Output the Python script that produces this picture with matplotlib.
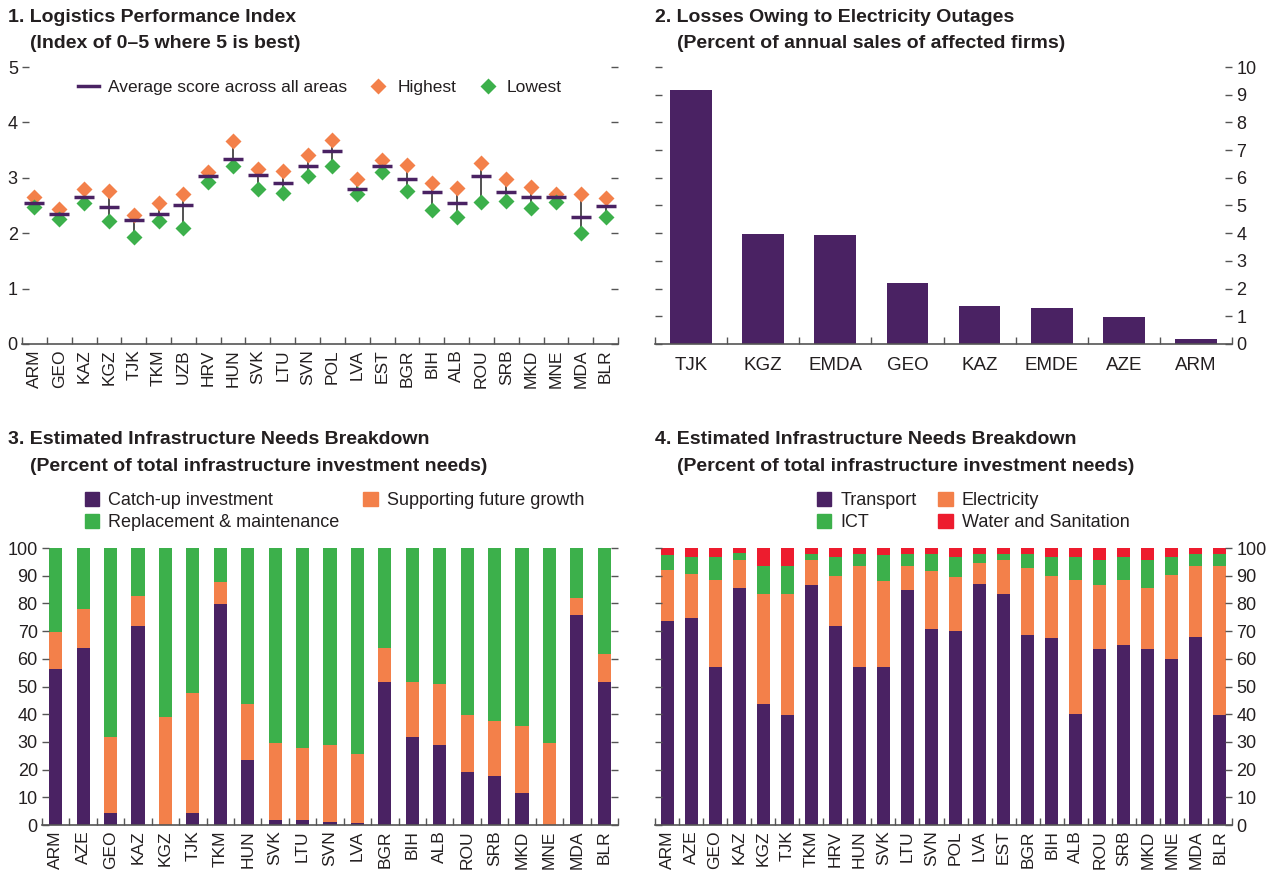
import matplotlib
matplotlib.use('Agg')
import matplotlib.pyplot as plt
import numpy as np
from matplotlib.lines import Line2D
from matplotlib.patches import Patch

plt.rcParams['font.family'] = ['Liberation Sans Narrow', 'Liberation Sans', 'DejaVu Sans']

PURPLE = '#4A2263'
ORANGE = '#F3804A'
GREEN = '#3CB04B'
RED = '#ED1C2E'
TEXT = '#231F20'
SPINE = '#555555'

# ---- Panel 1: Logistics Performance Index ----
lpi_countries = ['ARM', 'GEO', 'KAZ', 'KGZ', 'TJK', 'TKM', 'UZB', 'HRV', 'HUN', 'SVK', 'LTU', 'SVN',
                 'POL', 'LVA', 'EST', 'BGR', 'BIH', 'ALB', 'ROU', 'SRB', 'MKD', 'MNE', 'MDA', 'BLR']
lpi_avg = [2.55, 2.35, 2.66, 2.47, 2.24, 2.35, 2.51, 3.03, 3.34, 3.05, 2.91, 3.21,
           3.48, 2.80, 3.21, 2.97, 2.74, 2.55, 3.03, 2.74, 2.66, 2.66, 2.30, 2.49]
lpi_high = [2.66, 2.44, 2.79, 2.76, 2.32, 2.55, 2.71, 3.10, 3.67, 3.15, 3.13, 3.41,
            3.69, 2.98, 3.32, 3.23, 2.90, 2.82, 3.27, 2.97, 2.84, 2.71, 2.70, 2.64]
lpi_low = [2.48, 2.26, 2.55, 2.22, 1.93, 2.22, 2.09, 2.92, 3.21, 2.80, 2.73, 3.04,
           3.21, 2.70, 3.10, 2.76, 2.42, 2.30, 2.56, 2.59, 2.45, 2.57, 2.01, 2.30]

# ---- Panel 2: Losses owing to electricity outages ----
outage_countries = ['TJK', 'KGZ', 'EMDA', 'GEO', 'KAZ', 'EMDE', 'AZE', 'ARM']
outage_losses = [9.16, 3.97, 3.94, 2.21, 1.38, 1.31, 0.98, 0.19]

# ---- Panel 3: needs by type ----
type_countries = ['ARM', 'AZE', 'GEO', 'KAZ', 'KGZ', 'TJK', 'TKM', 'HUN', 'SVK', 'LTU', 'SVN',
                  'LVA', 'BGR', 'BIH', 'ALB', 'ROU', 'SRB', 'MKD', 'MNE', 'MDA', 'BLR']
catch_up = [56.3, 63.9, 4.3, 71.8, 0.0, 4.3, 79.8, 23.5, 1.8, 1.8, 1.1,
            0.7, 51.6, 31.8, 28.9, 19.1, 17.7, 11.6, 0.0, 75.8, 51.6]
future_growth = [13.5, 14.1, 27.5, 10.9, 39.0, 43.4, 7.9, 20.3, 27.8, 26.0, 27.8,
                 24.9, 12.3, 19.8, 22.0, 20.6, 19.8, 24.1, 29.6, 6.1, 10.1]
replacement = [30.2, 22.0, 68.2, 17.3, 61.0, 52.3, 12.3, 56.2, 70.4, 72.2, 71.1,
               74.4, 36.1, 48.4, 49.1, 60.3, 62.5, 64.3, 70.4, 18.1, 38.3]

# ---- Panel 4: needs by sector ----
sector_countries = ['ARM', 'AZE', 'GEO', 'KAZ', 'KGZ', 'TJK', 'TKM', 'HRV', 'HUN', 'SVK', 'LTU', 'SVN',
                    'POL', 'LVA', 'EST', 'BGR', 'BIH', 'ALB', 'ROU', 'SRB', 'MKD', 'MNE', 'MDA', 'BLR']
transport = [73.6, 74.7, 57.0, 85.6, 43.7, 39.7, 86.6, 71.8, 57.0, 57.0, 84.8, 70.8,
             70.0, 87.0, 83.4, 68.6, 67.5, 40.1, 63.5, 65.0, 63.5, 59.9, 67.9, 39.7]
electricity = [18.5, 15.9, 31.4, 10.1, 39.7, 43.7, 9.1, 18.1, 36.5, 31.1, 8.7, 20.9,
               19.5, 7.6, 12.3, 24.2, 22.4, 48.3, 23.1, 23.4, 22.1, 30.4, 25.6, 53.8]
ict = [5.4, 6.2, 8.4, 2.5, 10.1, 10.1, 2.1, 6.9, 4.3, 9.4, 4.3, 6.1,
       7.3, 3.2, 2.1, 5.0, 6.9, 8.4, 9.1, 8.4, 10.1, 6.5, 4.3, 4.3]
water = [2.5, 3.2, 3.2, 1.8, 6.5, 6.5, 2.2, 3.2, 2.2, 2.5, 2.2, 2.2,
         3.2, 2.2, 2.2, 2.2, 3.2, 3.2, 4.3, 3.2, 4.3, 3.2, 2.2, 2.2]

W, H = 1275, 871
fig = plt.figure(figsize=(W / 100, H / 100), dpi=100)


def box(x0, x1, ytop, ybot):
    return [x0 / W, 1 - ybot / H, (x1 - x0) / W, (ybot - ytop) / H]


def style_axes(ax, n, labels, rotate=True, fs=12.5):
    for s in ['top', 'left', 'right']:
        ax.spines[s].set_visible(False)
    ax.spines['bottom'].set_color(SPINE)
    ax.spines['bottom'].set_linewidth(1.2)
    ax.set_xlim(-0.5, n - 0.5)
    ax.set_xticks(np.arange(n))
    ax.set_xticklabels(labels, rotation=90 if rotate else 0, fontsize=fs, color=TEXT)
    ax.set_xticks(np.arange(n + 1) - 0.5, minor=True)
    ax.tick_params(axis='x', which='major', length=0, pad=4)
    ax.tick_params(axis='x', which='minor', direction='in', length=5, color=SPINE, width=1)
    ax.tick_params(axis='y', direction='in', length=5, color=SPINE, width=1,
                   labelsize=13, labelcolor=TEXT, pad=3, left=True, right=True)


def title(x, y, line1, line2):
    fig.text(x / W, 1 - y / H, line1, fontsize=14, fontweight='bold', color=TEXT, va='center')
    fig.text((x + 22) / W, 1 - (y + 26) / H, line2, fontsize=14, fontweight='bold', color=TEXT, va='center')


# Panel 1
ax1 = fig.add_axes(box(22, 618, 67, 344))
x1 = np.arange(len(lpi_countries))
ax1.vlines(x1, lpi_low, lpi_high, color='#333333', lw=1.2, zorder=2)
ax1.plot(x1, lpi_high, 'D', color=ORANGE, ms=8, mec='none', zorder=3)
ax1.plot(x1, lpi_low, 'D', color=GREEN, ms=8, mec='none', zorder=3)
ax1.plot(x1, lpi_avg, '_', color=PURPLE, ms=15, mew=2.5, zorder=4)
ax1.set_ylim(0, 5)
ax1.set_yticks(range(6))
style_axes(ax1, len(lpi_countries), lpi_countries)
ax1.tick_params(axis='y', labelleft=True, labelright=False)
handles1 = [Line2D([], [], color=PURPLE, lw=2.5),
            Line2D([], [], marker='D', ls='none', color=ORANGE, ms=8, mec='none'),
            Line2D([], [], marker='D', ls='none', color=GREEN, ms=8, mec='none')]
ax1.legend(handles1, ['Average score across all areas', 'Highest', 'Lowest'], ncol=3,
           loc='upper center', bbox_to_anchor=(0.5, 1.01), frameon=False, fontsize=12.5,
           handlelength=1.2, handletextpad=0.5, columnspacing=1.2, labelcolor=TEXT)
title(8, 18, '1. Logistics Performance Index', '(Index of 0–5 where 5 is best)')

# Panel 2
ax2 = fig.add_axes(box(655, 1232, 67, 344))
x2 = np.arange(len(outage_countries))
ax2.bar(x2, outage_losses, width=0.58, color=PURPLE)
ax2.set_ylim(0, 10)
ax2.set_yticks(range(11))
style_axes(ax2, len(outage_countries), outage_countries, rotate=False, fs=13.5)
ax2.tick_params(axis='x', which='major', pad=9)
ax2.tick_params(axis='y', labelleft=False, labelright=True)
title(655, 18, '2. Losses Owing to Electricity Outages', '(Percent of annual sales of affected firms)')

# Panel 3
ax3 = fig.add_axes(box(42, 618, 548, 825))
x3 = np.arange(len(type_countries))
bw3 = 0.48
ax3.bar(x3, catch_up, width=bw3, color=PURPLE)
ax3.bar(x3, future_growth, width=bw3, bottom=catch_up, color=ORANGE)
ax3.bar(x3, replacement, width=bw3, bottom=np.add(catch_up, future_growth), color=GREEN)
ax3.set_ylim(0, 100)
ax3.set_yticks(range(0, 101, 10))
style_axes(ax3, len(type_countries), type_countries)
ax3.tick_params(axis='y', labelleft=True, labelright=False)
fig.legend([Patch(color=PURPLE), Patch(color=GREEN), Patch(color=ORANGE)],
           ['Catch-up investment', 'Replacement & maintenance', 'Supporting future growth'],
           ncol=2, loc='upper left', bbox_to_anchor=(76 / W, 1 - 483 / H), frameon=False,
           fontsize=13, handlelength=0.8, handleheight=0.8, handletextpad=0.5,
           columnspacing=1.3, labelspacing=0.25, borderpad=0, labelcolor=TEXT)
title(8, 440, '3. Estimated Infrastructure Needs Breakdown',
      '(Percent of total infrastructure investment needs)')

# Panel 4
ax4 = fig.add_axes(box(655, 1232, 548, 825))
x4 = np.arange(len(sector_countries))
bw4 = 0.54
b1 = np.array(transport)
b2 = b1 + np.array(electricity)
b3 = b2 + np.array(ict)
ax4.bar(x4, transport, width=bw4, color=PURPLE)
ax4.bar(x4, electricity, width=bw4, bottom=b1, color=ORANGE)
ax4.bar(x4, ict, width=bw4, bottom=b2, color=GREEN)
ax4.bar(x4, water, width=bw4, bottom=b3, color=RED)
ax4.set_ylim(0, 100)
ax4.set_yticks(range(0, 101, 10))
style_axes(ax4, len(sector_countries), sector_countries)
ax4.tick_params(axis='y', labelleft=False, labelright=True)
fig.legend([Patch(color=PURPLE), Patch(color=GREEN), Patch(color=ORANGE), Patch(color=RED)],
           ['Transport', 'ICT', 'Electricity', 'Water and Sanitation'],
           ncol=2, loc='upper left', bbox_to_anchor=(808 / W, 1 - 483 / H), frameon=False,
           fontsize=13, handlelength=0.8, handleheight=0.8, handletextpad=0.5,
           columnspacing=1.2, labelspacing=0.25, borderpad=0, labelcolor=TEXT)
title(655, 440, '4. Estimated Infrastructure Needs Breakdown',
      '(Percent of total infrastructure investment needs)')

fig.savefig('out.png', dpi=100)
